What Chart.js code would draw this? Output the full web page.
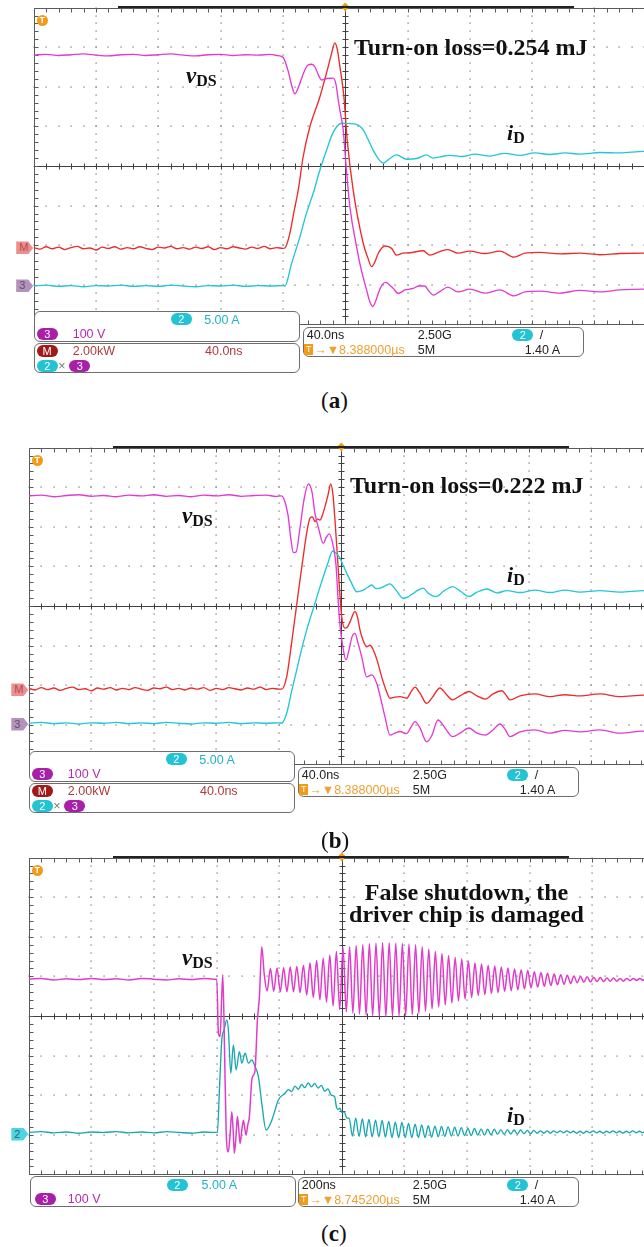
<!DOCTYPE html>
<html><head><meta charset="utf-8">
<script src="https://cdn.jsdelivr.net/npm/chart.js@4.4.1/dist/chart.umd.min.js"></script>
<style>
html,body{margin:0;padding:0;background:#fff;}
body{width:644px;height:1247px;position:relative;overflow:hidden;font-family:'Liberation Sans',Arial,sans-serif;}
canvas{position:absolute;left:0;}
.box{position:absolute;border:1px solid #6e6e6e;border-radius:6px;background:#fff;box-sizing:border-box;}
.lbl{position:absolute;font-size:12.5px;line-height:12px;white-space:nowrap;}
.pill{position:absolute;width:21px;height:12px;border-radius:6px;color:#fff;font-size:11px;line-height:12px;text-align:center;}
.ann{position:absolute;font-family:'Liberation Serif','Times New Roman',serif;font-weight:bold;color:#111;white-space:nowrap;}
.sym{font-style:italic;}
.sub{font-size:16px;vertical-align:-3px;font-style:normal;}
.cap{position:absolute;font-family:'Liberation Serif','Times New Roman',serif;font-size:23px;color:#111;line-height:23px;}
.tag{position:absolute;width:17px;height:13px;font-size:11px;line-height:13px;padding-left:3px;box-sizing:border-box;clip-path:polygon(0 0,70% 0,100% 50%,70% 100%,0 100%);}
.tcirc{position:absolute;width:11px;height:11px;border-radius:50%;background:#f39a17;color:#fff;font-size:9px;line-height:11px;text-align:center;font-weight:bold;}
.bar{position:absolute;height:2px;background:#222;}
</style></head><body>
<canvas id="ca"></canvas><canvas id="cb"></canvas><canvas id="cc"></canvas>
<script>
// ---------- DATA (x: divisions from trigger, y: divisions from screen centre) ----------
// Panel (a)
const aVds = [[-5.0,2.80],[-4.8,2.82],[-4.6,2.79],[-4.4,2.81],[-4.2,2.83],[-4.0,2.80],[-3.8,2.78],[-3.6,2.81],[-3.4,2.82],[-3.2,2.79],[-3.0,2.81],[-2.8,2.83],[-2.6,2.80],[-2.4,2.78],[-2.2,2.81],[-2.0,2.82],[-1.8,2.79],[-1.6,2.81],[-1.4,2.80],[-1.2,2.82],[-1.1,2.79],
[-1.00,2.75],[-0.92,2.42],[-0.856,2.02],[-0.807,1.82],[-0.743,2.02],[-0.663,2.37],[-0.598,2.55],[-0.539,2.57],[-0.486,2.50],[-0.422,2.27],[-0.379,2.17],[-0.294,2.21],[-0.193,2.22],[-0.149,2.07],[-0.112,1.67],[-0.077,1.34],[-0.032,0.91],[0.011,0.07],[0.075,-1.03],[0.183,-2.04],[0.252,-2.58],[0.343,-3.13],[0.396,-3.43],[0.440,-3.55],[0.485,-3.43],[0.530,-3.22],[0.589,-3.01],[0.653,-2.94],[0.717,-3.01],[0.770,-3.09],[0.851,-3.22],[0.958,-3.13],[1.091,-3.09],[1.183,-3.03],[1.279,-3.03],[1.343,-3.16],[1.413,-3.26],[1.520,-3.17],[1.648,-3.06],[1.809,-3.18],[2.001,-3.11],[2.242,-3.21],[2.483,-3.13],[2.708,-3.28],[2.884,-3.18],[3.125,-3.16],[3.446,-3.21],[3.767,-3.14],[4.088,-3.18],[4.409,-3.13],[4.795,-3.11],[5.0,-3.13]];
const aPow = [[-5.0,-2.06],[-4.9,-2.10],[-4.8,-2.04],[-4.7,-2.09],[-4.6,-2.05],[-4.5,-2.11],[-4.4,-2.06],[-4.3,-2.03],[-4.2,-2.09],[-4.1,-2.07],[-4.0,-2.12],[-3.9,-2.05],[-3.8,-2.08],[-3.7,-2.04],[-3.6,-2.10],[-3.5,-2.06],[-3.4,-2.09],[-3.3,-2.04],[-3.2,-2.08],[-3.1,-2.11],[-3.0,-2.05],[-2.9,-2.07],[-2.8,-2.03],[-2.7,-2.09],[-2.6,-2.06],[-2.5,-2.10],[-2.4,-2.05],[-2.3,-2.08],[-2.2,-2.04],[-2.1,-2.11],[-2.0,-2.06],[-1.9,-2.09],[-1.8,-2.04],[-1.7,-2.07],[-1.6,-2.10],[-1.5,-2.05],[-1.4,-2.08],[-1.3,-2.03],[-1.2,-2.09],[-1.1,-2.06],[-1.0,-2.08],
[-0.968,-2.07],[-0.888,-1.70],[-0.823,-1.16],[-0.754,-0.61],[-0.674,0.24],[-0.567,0.99],[-0.406,1.75],[-0.273,2.51],[-0.213,2.88],[-0.165,3.11],[-0.125,2.93],[-0.085,2.51],[-0.021,1.75],[0.032,0.66],[0.128,-0.61],[0.289,-1.95],[0.364,-2.32],[0.424,-2.54],[0.477,-2.42],[0.530,-2.21],[0.637,-2.02],[0.745,-2.08],[0.825,-2.25],[0.926,-2.20],[1.039,-2.19],[1.252,-2.14],[1.360,-2.25],[1.520,-2.16],[1.648,-2.11],[1.809,-2.20],[2.001,-2.15],[2.242,-2.21],[2.483,-2.15],[2.708,-2.30],[2.884,-2.20],[3.125,-2.18],[3.446,-2.22],[3.767,-2.20],[4.088,-2.24],[4.409,-2.21],[4.795,-2.20],[5.0,-2.21]];
const aId = [[-5.0,-3.03],[-4.8,-3.01],[-4.6,-3.04],[-4.4,-3.02],[-4.2,-3.05],[-4.0,-3.02],[-3.8,-3.03],[-3.6,-3.01],[-3.4,-3.04],[-3.2,-3.02],[-3.0,-3.04],[-2.8,-3.01],[-2.6,-3.03],[-2.4,-3.05],[-2.2,-3.02],[-2.0,-3.03],[-1.8,-3.01],[-1.6,-3.04],[-1.4,-3.02],[-1.2,-3.03],[-1.0,-3.02],
[-0.968,-3.03],[-0.860,-2.46],[-0.727,-1.79],[-0.631,-1.24],[-0.514,-0.69],[-0.406,-0.10],[-0.299,0.40],[-0.213,0.78],[-0.138,0.99],[-0.058,1.08],[0.043,1.07],[0.183,1.05],[0.289,0.91],[0.364,0.68],[0.449,0.40],[0.525,0.20],[0.610,0.07],[0.717,0.19],[0.825,0.28],[0.986,0.17],[1.146,0.19],[1.307,0.28],[1.408,0.20],[1.520,0.23],[1.681,0.27],[1.873,0.24],[2.082,0.30],[2.323,0.25],[2.563,0.32],[2.804,0.27],[3.045,0.33],[3.286,0.29],[3.527,0.33],[3.767,0.30],[4.088,0.34],[4.409,0.33],[4.795,0.37],[5.0,0.35]];
const aTags = [['M',-2.07],['3',-3.03]];

// Panel (b)
const bVds = [[-5.0,2.78],[-4.8,2.80],[-4.6,2.76],[-4.4,2.79],[-4.2,2.81],[-4.0,2.77],[-3.8,2.79],[-3.6,2.76],[-3.4,2.80],[-3.2,2.78],[-3.0,2.81],[-2.8,2.77],[-2.6,2.79],[-2.4,2.76],[-2.2,2.80],[-2.0,2.78],[-1.8,2.81],[-1.6,2.77],[-1.4,2.79],[-1.2,2.80],[-1.05,2.77],
[-0.954,2.78],[-0.917,2.70],[-0.853,2.30],[-0.805,1.67],[-0.768,1.35],[-0.725,1.36],[-0.661,1.97],[-0.597,2.68],[-0.528,3.08],[-0.469,2.88],[-0.421,2.34],[-0.357,1.92],[-0.288,1.58],[-0.245,1.72],[-0.192,1.82],[-0.128,1.50],[-0.085,1.04],[-0.048,0.07],[-0.021,-0.48],[0.027,-1.06],[0.075,-1.36],[0.123,-1.11],[0.171,-0.78],[0.219,-0.69],[0.267,-0.93],[0.326,-1.28],[0.406,-1.79],[0.486,-1.74],[0.566,-1.95],[0.635,-2.37],[0.699,-2.80],[0.779,-3.26],[0.859,-3.21],[0.939,-3.17],[1.046,-3.22],[1.115,-3.06],[1.179,-2.92],[1.259,-3.08],[1.366,-3.43],[1.451,-3.26],[1.547,-2.88],[1.659,-3.08],[1.782,-3.30],[1.899,-3.21],[2.043,-3.08],[2.171,-3.21],[2.309,-3.26],[2.427,-3.13],[2.539,-2.98],[2.619,-3.11],[2.699,-3.30],[2.859,-3.18],[3.099,-3.13],[3.339,-3.21],[3.579,-3.14],[3.819,-3.18],[4.139,-3.13],[4.459,-3.21],[4.843,-3.16],[5.0,-3.17]];
const bPow = [[-5.0,-2.08],[-4.9,-2.12],[-4.8,-2.06],[-4.7,-2.11],[-4.6,-2.07],[-4.5,-2.13],[-4.4,-2.08],[-4.3,-2.05],[-4.2,-2.11],[-4.1,-2.09],[-4.0,-2.14],[-3.9,-2.07],[-3.8,-2.10],[-3.7,-2.06],[-3.6,-2.12],[-3.5,-2.08],[-3.4,-2.11],[-3.3,-2.06],[-3.2,-2.10],[-3.1,-2.13],[-3.0,-2.07],[-2.9,-2.09],[-2.8,-2.05],[-2.7,-2.11],[-2.6,-2.08],[-2.5,-2.12],[-2.4,-2.07],[-2.3,-2.10],[-2.2,-2.06],[-2.1,-2.13],[-2.0,-2.08],[-1.9,-2.11],[-1.8,-2.06],[-1.7,-2.09],[-1.6,-2.12],[-1.5,-2.07],[-1.4,-2.10],[-1.3,-2.05],[-1.2,-2.11],[-1.1,-2.08],[-1.0,-2.10],
[-0.954,-2.10],[-0.874,-1.79],[-0.821,-1.24],[-0.768,-0.61],[-0.714,0.03],[-0.661,0.66],[-0.608,1.26],[-0.554,1.84],[-0.501,2.22],[-0.461,2.25],[-0.421,2.13],[-0.381,2.20],[-0.341,2.17],[-0.301,2.30],[-0.261,2.51],[-0.213,2.80],[-0.170,3.08],[-0.133,2.80],[-0.101,2.17],[-0.048,0.91],[0.006,-0.27],[0.059,-0.56],[0.099,-0.53],[0.139,-0.40],[0.219,-0.14],[0.259,-0.28],[0.299,-0.61],[0.347,-0.86],[0.406,-1.03],[0.459,-0.99],[0.512,-1.11],[0.571,-1.36],[0.646,-1.79],[0.715,-2.12],[0.779,-2.33],[0.859,-2.30],[0.939,-2.29],[1.046,-2.33],[1.115,-2.17],[1.179,-2.05],[1.259,-2.20],[1.366,-2.46],[1.451,-2.32],[1.579,-2.07],[1.675,-2.22],[1.782,-2.37],[1.899,-2.27],[2.043,-2.16],[2.171,-2.27],[2.309,-2.35],[2.427,-2.22],[2.571,-2.14],[2.635,-2.25],[2.699,-2.37],[2.859,-2.27],[3.099,-2.22],[3.339,-2.29],[3.579,-2.24],[3.819,-2.27],[4.139,-2.22],[4.459,-2.29],[4.843,-2.25],[5.0,-2.26]];
const bId = [[-5.0,-2.96],[-4.8,-2.94],[-4.6,-2.97],[-4.4,-2.95],[-4.2,-2.98],[-4.0,-2.95],[-3.8,-2.96],[-3.6,-2.94],[-3.4,-2.97],[-3.2,-2.95],[-3.0,-2.97],[-2.8,-2.94],[-2.6,-2.96],[-2.4,-2.98],[-2.2,-2.95],[-2.0,-2.96],[-1.8,-2.94],[-1.6,-2.97],[-1.4,-2.95],[-1.2,-2.96],[-1.0,-2.95],
[-0.954,-2.96],[-0.874,-2.71],[-0.797,-2.17],[-0.714,-1.62],[-0.637,-1.11],[-0.554,-0.61],[-0.485,-0.25],[-0.421,0.07],[-0.357,0.40],[-0.288,0.74],[-0.213,1.09],[-0.138,1.39],[-0.085,1.34],[-0.021,1.21],[0.035,1.01],[0.086,0.83],[0.155,0.61],[0.246,0.36],[0.352,0.40],[0.411,0.46],[0.486,0.53],[0.555,0.44],[0.619,0.45],[0.699,0.51],[0.779,0.56],[0.875,0.40],[0.992,0.19],[1.067,0.23],[1.152,0.32],[1.227,0.40],[1.312,0.45],[1.387,0.33],[1.472,0.25],[1.515,0.24],[1.643,0.38],[1.782,0.49],[1.899,0.38],[2.043,0.24],[2.171,0.35],[2.331,0.43],[2.491,0.33],[2.651,0.39],[2.859,0.34],[3.099,0.40],[3.339,0.34],[3.579,0.40],[3.819,0.35],[4.139,0.39],[4.459,0.35],[4.843,0.39],[5.0,0.38]];
const bTags = [['M',-2.12],['3',-2.98]];

// Panel (c)
const cVds = [[-5.0,0.93],[-4.8,0.95],[-4.6,0.91],[-4.4,0.94],[-4.2,0.92],[-4.0,0.95],[-3.8,0.92],[-3.6,0.94],[-3.4,0.91],[-3.2,0.95],[-3.0,0.93],[-2.8,0.91],[-2.6,0.94],[-2.4,0.92],[-2.2,0.95],[-2.05,0.93],
[-1.997,0.93],[-1.971,-0.44],[-1.944,-0.52],[-1.920,0.40],[-1.901,1.04],[-1.873,-0.86],[-1.848,-2.88],[-1.812,-3.43],[-1.785,-3.01],[-1.757,-2.42],[-1.736,-2.88],[-1.716,-3.47],[-1.689,-3.01],[-1.668,-2.54],[-1.645,-2.88],[-1.625,-3.22],[-1.597,-2.88],[-1.572,-2.63],[-1.550,-2.83],[-1.530,-3.01],[-1.502,-2.75],[-1.476,-2.54],[-1.438,-1.62],[-1.409,-1.49],[-1.385,-1.36],[-1.348,-0.10],[-1.316,0.49],[-1.278,1.75],[-1.241,1.08]];
const cVdsRingStart = -1.193, cVdsRingStep = 0.0527;
const cVdsRing = [0.63,1.20,0.62,1.21,0.61,1.22,0.61,1.24,0.61,1.25,0.59,1.28,0.53,1.34,0.47,1.40,0.41,1.46,0.35,1.54,0.25,1.63,0.16,1.73,0.10,1.75,0.07,1.78,0.05,1.80,0.02,1.83,0.00,1.84,-0.01,1.85,-0.02,1.85,-0.01,1.84,0.00,1.83,0.01,1.82,0.03,1.80,0.06,1.75,0.12,1.69,0.18,1.63,0.23,1.58,0.28,1.53,0.33,1.48,0.38,1.44,0.43,1.39,0.47,1.34,0.52,1.31,0.54,1.28,0.57,1.26,0.59,1.24,0.62,1.21,0.64,1.19,0.66,1.17,0.68,1.15,0.71,1.12,0.73,1.10,0.75,1.08,0.77,1.06,0.79,1.04,0.80,1.03,0.82,1.01,0.84,1.00,0.85,0.99,0.86,0.98,0.87,0.97,0.87,0.96,0.88,0.96,0.88,0.95,0.88,0.95,0.89,0.95,0.90,0.95,0.90,0.95,0.90,0.95];
const cId = [[-5.0,-2.94],[-4.8,-2.92],[-4.6,-2.95],[-4.4,-2.93],[-4.2,-2.96],[-4.0,-2.93],[-3.8,-2.94],[-3.6,-2.92],[-3.4,-2.95],[-3.2,-2.93],[-3.0,-2.95],[-2.8,-2.92],[-2.6,-2.94],[-2.4,-2.96],[-2.2,-2.93],[-2.05,-2.94],
[-1.987,-2.94],[-1.955,-1.87],[-1.917,-0.61],[-1.880,-0.35],[-1.837,-0.10],[-1.812,-0.35],[-1.773,-1.45],[-1.732,-0.73],[-1.688,-1.36],[-1.636,-0.90],[-1.597,-1.19],[-1.545,-0.94],[-1.492,-1.19],[-1.438,-1.11],[-1.385,-1.28],[-1.332,-1.53],[-1.278,-2.21],[-1.209,-2.88],[-1.118,-2.63],[-1.013,-2.12],
[-0.906,-1.95],[-0.853,-1.86],[-0.800,-1.91],[-0.748,-1.77],[-0.695,-1.85],[-0.642,-1.73],[-0.590,-1.81],[-0.537,-1.69],[-0.484,-1.79],[-0.432,-1.70],[-0.379,-1.82],[-0.326,-1.75],[-0.274,-1.90],[-0.221,-1.84],[-0.168,-2.00],[-0.116,-2.03],[-0.085,-2.30],[-0.063,-2.36],[-0.030,-2.33],[0.005,-2.44],[0.040,-2.42],[0.080,-2.58]];
const cIdRingStart = 0.117, cIdRingStep = 0.0527;
const cIdRing = [-2.58,-3.03,-2.58,-3.04,-2.60,-3.05,-2.61,-3.05,-2.63,-3.05,-2.64,-3.06,-2.66,-3.07,-2.68,-3.07,-2.69,-3.07,-2.71,-3.07,-2.73,-3.07,-2.75,-3.07,-2.77,-3.06,-2.78,-3.05,-2.79,-3.04,-2.80,-3.03,-2.81,-3.03,-2.82,-3.02,-2.84,-3.02,-2.84,-3.01,-2.85,-3.01,-2.86,-3.00,-2.86,-2.99,-2.87,-2.99,-2.87,-2.98,-2.88,-2.98,-2.88,-2.97,-2.89,-2.97,-2.89,-2.96,-2.90,-2.96,-2.90,-2.96,-2.90,-2.95,-2.90,-2.95,-2.90,-2.95,-2.91,-2.96,-2.91,-2.96,-2.91,-2.95,-2.90,-2.95,-2.91,-2.96,-2.91,-2.95,-2.90,-2.95,-2.91,-2.96,-2.91,-2.95,-2.90,-2.95,-2.91,-2.95,-2.90,-2.95,-2.91];
const cTags = [['2',-2.98]];

// text
const annA = 'Turn-on loss=0.254 mJ', annB = 'Turn-on loss=0.222 mJ';
const annC = ['False shutdown, the','driver chip is damaged'];
const hScaleAB = '40.0ns', hScaleC = '200ns';
const trigAB = '8.388000µs', trigC = '8.745200µs';

// ---------- helpers ----------
const pts = arr => arr.map(([x,y]) => ({x, y}));
const ring = (t0, dt, vals) => vals.map((v,i) => ({x: t0 + i*dt, y: v}));

const scopeGrid = {
  id:'scopeGrid',
  beforeDatasetsDraw(chart){
    const {ctx, chartArea:a, scales:{x,y}} = chart;
    const X = v => x.getPixelForValue(v), Y = v => y.getPixelForValue(v);
    ctx.save();
    ctx.fillStyle = '#949494';
    for (let g=-4; g<=4; g++){ if(!g) continue; const px=Math.round(X(g));
      for (let i=-20;i<=20;i++) ctx.fillRect(px-0.6, Math.round(Y(i/5))-0.6, 1.4, 1.4); }
    for (let g=-3; g<=3; g++){ if(!g) continue; const py=Math.round(Y(g));
      for (let i=-25;i<=25;i++) ctx.fillRect(Math.round(X(i/5))-0.6, py-0.6, 1.4, 1.4); }
    const cx=Math.round(X(0))+0.5, cy=Math.round(Y(0))+0.5;
    ctx.strokeStyle='#404040'; ctx.lineWidth=1;
    ctx.beginPath();
    ctx.moveTo(cx,a.top); ctx.lineTo(cx,a.bottom); ctx.moveTo(a.left,cy); ctx.lineTo(a.right,cy);
    for (let i=-20;i<=20;i++){ const py=Math.round(Y(i/5))+0.5; ctx.moveTo(cx-3,py); ctx.lineTo(cx+3,py); }
    for (let i=-25;i<=25;i++){ const px=Math.round(X(i/5))+0.5; ctx.moveTo(px,cy-3); ctx.lineTo(px,cy+3); }
    ctx.stroke();
    const l=Math.round(a.left)+0.5, t=Math.round(a.top)+0.5, b=Math.round(a.bottom)+0.5, r=Math.round(a.right)+0.5;
    ctx.strokeStyle='#5a5a5a';
    ctx.beginPath();
    ctx.moveTo(l,t); ctx.lineTo(l,b); ctx.moveTo(l,t); ctx.lineTo(r,t); ctx.moveTo(l,b); ctx.lineTo(r,b);
    for (let i=-20;i<=20;i++){ const py=Math.round(Y(i/5))+0.5; ctx.moveTo(l,py); ctx.lineTo(l+4,py); }
    for (let i=-25;i<=25;i++){ const px=Math.round(X(i/5))+0.5; ctx.moveTo(px,t); ctx.lineTo(px,t+4); ctx.moveTo(px,b); ctx.lineTo(px,b-4); }
    ctx.stroke();
    ctx.restore();
  },
  afterDraw(chart){
    const {ctx, chartArea:a, scales:{x}} = chart;
    const px = x.getPixelForValue(0);
    ctx.save(); ctx.fillStyle='#f29a1a';
    ctx.beginPath(); ctx.moveTo(px-4,a.top-1); ctx.lineTo(px,a.top-5); ctx.lineTo(px+4,a.top-1); ctx.lineTo(px,a.top+4); ctx.closePath(); ctx.fill();
    ctx.restore();
  }
};

const W = 690, H = 330, PADT = 7.6, PLOTH = 316.8;
function makeScope(id, canvasTop, padL, plotW, datasets, tags, tagStyles){
  const cv = document.getElementById(id);
  cv.width = W; cv.height = H; cv.style.top = canvasTop + 'px';
  cv.style.width = W+'px'; cv.style.height = H+'px';
  const chart = new Chart(cv, {
    type:'line',
    data:{datasets},
    options:{
      responsive:false, animation:false, events:[], devicePixelRatio:1,
      layout:{padding:{left:padL, top:PADT, right:W-padL-plotW, bottom:H-PADT-PLOTH}},
      plugins:{legend:{display:false}, tooltip:{enabled:false}},
      scales:{x:{type:'linear',min:-5,max:5,display:false}, y:{type:'linear',min:-4,max:4,display:false}},
      elements:{point:{radius:0}, line:{tension:0, borderWidth:1.35, cubicInterpolationMode:'monotone'}}
    },
    plugins:[scopeGrid]
  });
  tags.forEach(([txt, level], i) => {
    const d = document.createElement('div');
    d.className = 'tag'; d.textContent = txt;
    d.style.left = (chart.chartArea.left - 17.5) + 'px';
    d.style.top = (canvasTop + chart.scales.y.getPixelForValue(level) - 6.5) + 'px';
    d.style.background = tagStyles[i][0]; d.style.color = tagStyles[i][1];
    document.body.appendChild(d);
  });
  return chart;
}
const ds = (data, color, w) => ({data, borderColor:color, borderWidth:w||1.35, fill:false, pointRadius:0, cubicInterpolationMode:'monotone', borderJoinStyle:'round'});

const MAG='#e23ad2', RED='#ec2b2b', CYN='#22c6d6';
makeScope('ca', 0, 33.7, 623, [ds(pts(aVds),MAG), ds(pts(aId),CYN), ds(pts(aPow),RED)], aTags, [['#e99090','#b84a4a'],['#b193bb','#6e4a72']]);
makeScope('cb', 440, 28.8, 625, [ds(pts(bVds),MAG), ds(pts(bId),CYN), ds(pts(bPow),RED)], bTags, [['#e99090','#b84a4a'],['#b193bb','#6e4a72']]);
makeScope('cc', 850, 28.8, 626, [ds(pts(cVds).concat(ring(cVdsRingStart,cVdsRingStep,cVdsRing)),'#e03cc8',1.5), ds(pts(cId).concat(ring(cIdRingStart,cIdRingStep,cIdRing)),'#17a8ae',1.35)], cTags, [['#4fd3e0','#1d6d74']]);

// ---------- HTML overlays ----------
const B = document.body;
function el(cls, txt, left, top, css){
  const d = document.createElement('div'); d.className = cls;
  if (txt !== null) d.textContent = txt;
  d.style.left = left+'px'; d.style.top = top+'px';
  if (css) Object.assign(d.style, css);
  B.appendChild(d); return d;
}
const C_CY='#22c3d3', C_CYT='#1fb3c6', C_MG='#a81fa8', C_MGT='#b22cb2', C_MR='#a11a1a', C_RT='#ad3b3b', C_OR='#f0a030';
function pill(t, bg, l, tp){ el('pill', t, l, tp, {background:bg}); }
function lbl(t, col, l, tp){ el('lbl', t, l, tp, {color:col}); }
function rightBox(L, T, hs, trig){
  el('box', null, L+269.3, T+319.1, {width:'281px', height:'30px'});
  lbl(hs, '#222', L+273, T+321.4);
  lbl('2.50G', '#222', L+384, T+321.4);
  pill('2', C_CY, L+478.5, T+321.4);
  lbl('/', '#222', L+506, T+321.4);
  el('lbl', 'T', L+270.5, T+336.2, {background:'#f39a17', color:'#fff', width:'9px', height:'11px', fontSize:'9px', lineHeight:'11px', textAlign:'center'});
  lbl('→▼' + trig, C_OR, L+280.5, T+336.4);
  lbl('5M', '#222', L+384, T+336.4);
  lbl('1.40 A', '#222', L+491, T+336.4);
}
function panelDecor(L, T){
  el('bar', null, L+84, T-2, {width:'456px'});
  el('tcirc', 'T', L+3, T+7.5);
}
function mathBoxes(L, T){
  el('box', null, L, T+303.1, {width:'266px', height:'31px'});
  pill('2', C_CY, L+137, T+305.7); lbl('5.00 A', C_CYT, L+170.5, T+306);
  pill('3', C_MG, L+3, T+320.7); lbl('100 V', C_MGT, L+39, T+320.3);
  el('box', null, L, T+335.7, {width:'266px', height:'29.4px'});
  pill('M', C_MR, L+3, T+337.4); lbl('2.00kW', C_RT, L+39, T+337.7); lbl('40.0ns', C_RT, L+171.3, T+337.7);
  pill('2', C_CY, L+3, T+352.4); lbl('×', '#777', L+24.5, T+352.4); pill('3', C_MG, L+35.6, T+352.4);
  rightBox(L, T, hScaleAB, trigAB);
}
// panel (a)
panelDecor(33.7, 7.6); mathBoxes(33.7, 7.6);
el('ann', annA, 354, 34.9, {fontSize:'24px', lineHeight:'24px'});
el('ann', null, 186, 63.7, {fontSize:'23px', lineHeight:'23px'}).innerHTML = '<span class="sym">v</span><span class="sub">DS</span>';
el('ann', null, 507, 121.6, {fontSize:'22px', lineHeight:'22px'}).innerHTML = '<span class="sym">i</span><span class="sub">D</span>';
el('cap', null, 321, 388.5).innerHTML = '(<b>a</b>)';
// panel (b)
panelDecor(28.8, 447.6); mathBoxes(28.8, 447.6);
el('ann', annB, 350, 472.9, {fontSize:'24px', lineHeight:'24px'});
el('ann', null, 182, 503.7, {fontSize:'23px', lineHeight:'23px'}).innerHTML = '<span class="sym">v</span><span class="sub">DS</span>';
el('ann', null, 507, 563.6, {fontSize:'22px', lineHeight:'22px'}).innerHTML = '<span class="sym">i</span><span class="sub">D</span>';
el('cap', null, 321, 829).innerHTML = '(<b>b</b>)';
// panel (c)
panelDecor(28.8, 857.6);
el('box', null, 29.6, 1176, {width:'266px', height:'30.7px'});
pill('2', C_CY, 166.8, 1179); lbl('5.00 A', C_CYT, 201.6, 1179);
pill('3', C_MG, 34.8, 1193.4); lbl('100 V', C_MGT, 67.8, 1193.4);
rightBox(28.8, 857.6, hScaleC, trigC);
const fs = el('ann', null, 316.5, 880.5, {fontSize:'24px', lineHeight:'22.7px', width:'300px', textAlign:'center'});
fs.innerHTML = annC[0] + '<br>' + annC[1];
el('ann', null, 182, 945.7, {fontSize:'23px', lineHeight:'23px'}).innerHTML = '<span class="sym">v</span><span class="sub">DS</span>';
el('ann', null, 507, 1103.6, {fontSize:'22px', lineHeight:'22px'}).innerHTML = '<span class="sym">i</span><span class="sub">D</span>';
el('cap', null, 321, 1221.5).innerHTML = '(<b>c</b>)';
</script>
</body></html>
